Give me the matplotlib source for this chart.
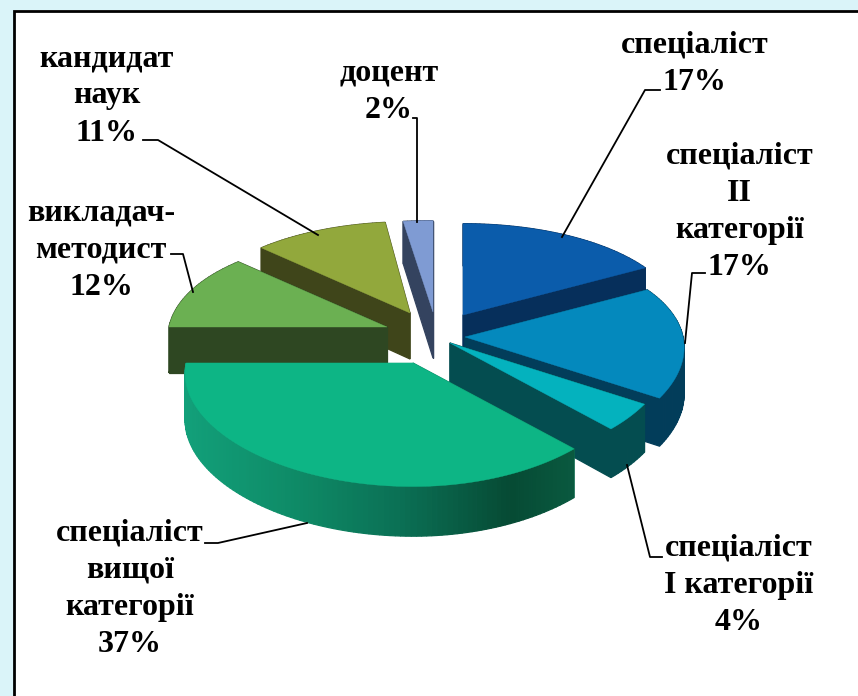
import numpy as np
import matplotlib
matplotlib.use("Agg")
from matplotlib import pyplot as plt

names = ["спеціаліст\n17%", "спеціаліст\nІІ\nкатегорії\n17%", "спеціаліст\nІ категорії\n4%",
         "спеціаліст\nвищої\nкатегорії\n37%", "викладач-\nметодист\n12%", "кандидат\nнаук\n11%", "доцент\n2%"]
values = [17, 17, 4, 37, 12, 11, 2]

top_colors = ["#0B5CAB", "#0489BD", "#04B2BE", "#0DB585", "#6BB052", "#92A83C", "#7F9BD3"]
side_colors = ["#062F5B", "#023D5A", "#044D50", "#0E8A66", "#2E4722", "#3F451A", "#34435F"]

# apex of every exploded slice, in pixels
apex_x = [463, 465, 450, 413, 387, 410, 433]
apex_y = [315, 337, 343, 363, 327, 313, 312]
left_gain = [1, 1, 1, 1.04, 1, 1, 1.2]
draw_order = [6, 5, 0, 4, 1, 2, 3]

label_x = [694.5, 739.5, 739, 130, 101, 106.5, 389]
label_y = [64, 212, 585, 589, 250, 96, 92]
leaders = [[(562, 237), (645, 90), (660, 90)],
           [(685, 343), (692, 273), (705, 273)],
           [(627, 465), (650, 557), (662, 557)],
           [(307, 523), (218, 543), (205, 543)],
           [(193, 292), (183, 254), (171, 254)],
           [(318, 235), (158, 140), (143, 140)],
           [(417, 222), (417, 118), (413, 118)]]

A, D, KX, KY, DEPTH = 218, 105, 0.10, 0.15, 46


def project(theta, cx, cy, gain=1.0):
    x = np.sin(theta)
    y = -np.cos(theta)
    sx = cx + np.where(x < 0, gain, 1.0) * A * x / (1 - KX * y)
    sy = cy + D * y / (1 - KY * y)
    return sx, sy


def green_side(x):
    stops = [185, 300, 400, 510, 576]
    reds = [0x12, 0x0E, 0x0B, 0x06, 0x0A]
    greens = [0xA0, 0x8A, 0x70, 0x4A, 0x5A]
    blues = [0x7A, 0x66, 0x55, 0x34, 0x40]
    return (np.interp(x, stops, reds) / 255, np.interp(x, stops, greens) / 255, np.interp(x, stops, blues) / 255)


fig = plt.figure(figsize=(8.58, 6.96), dpi=100, facecolor="white")
ax = fig.add_axes([0, 0, 1, 1])
ax.set_xlim(0, 858)
ax.set_ylim(696, 0)
ax.axis("off")

# cyan margin and the two black frame lines
ax.fill([0, 858, 858, 14, 14, 0], [0, 0, 10, 10, 696, 696], color="#DAF4F9", lw=0)
ax.plot([14, 14, 858], [696, 10.5, 10.5], color="black", lw=2.0, solid_joinstyle="miter")

edges = np.radians(np.concatenate([[0], np.cumsum(values)]) * 3.6)

for i in draw_order:
    t0, t1 = edges[i], edges[i + 1]
    cx, cy, g = apex_x[i], apex_y[i], left_gain[i]
    ts = np.linspace(t0, t1, max(int(values[i] * 3), 8))
    faces = []
    for a, b in zip(ts[:-1], ts[1:]):
        xa, ya = project(a, cx, cy, g)
        xb, yb = project(b, cx, cy, g)
        drop_a = DEPTH * (1 - np.cos(a) * 0.08)
        drop_b = DEPTH * (1 - np.cos(b) * 0.08)
        col = green_side((xa + xb) / 2) if i == 3 else side_colors[i]
        faces.append((-np.cos((a + b) / 2), [xa, xb, xb, xa], [ya, yb, yb + drop_b, ya + drop_a], col))
    for t, normal in [(t0, t0 - np.pi / 2), (t1, t1 + np.pi / 2)]:
        xr, yr = project(t, cx, cy, g)
        drop_r = DEPTH * (1 - np.cos(t) * 0.08)
        faces.append((-np.cos(normal), [cx, xr, xr, cx], [cy, yr, yr + drop_r, cy + DEPTH], side_colors[i]))
    for f in sorted(faces, key=lambda q: q[0]):
        ax.fill(f[1], f[2], color=f[3], lw=0.9)
    xs, ys = project(np.linspace(t0, t1, 120), cx, cy, g)
    ax.fill(np.r_[cx, xs], np.r_[cy, ys], color=top_colors[i], lw=0.3)

for pts in leaders:
    ax.plot([p[0] for p in pts], [p[1] for p in pts], color="black", lw=1.3)

for i, name in enumerate(names):
    ax.text(label_x[i], label_y[i], name, ha="center", va="center", family="Liberation Serif",
            fontweight="bold", fontsize=23, linespacing=1.37, color="black")

fig.savefig("out.png", dpi=100)
